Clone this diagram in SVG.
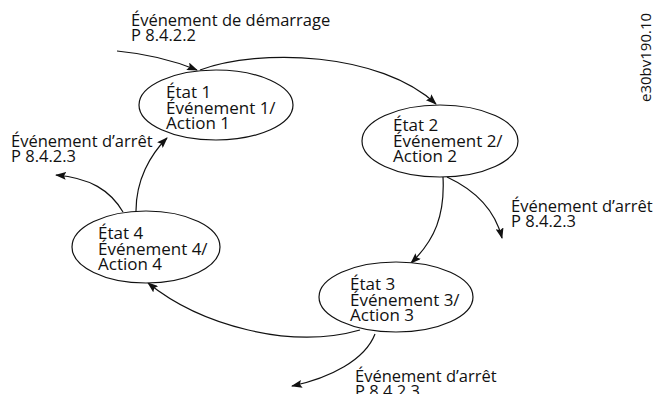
<svg xmlns="http://www.w3.org/2000/svg" width="656" height="394" viewBox="0 0 656 394">
<style>
text{font-family:"Open Sans","Liberation Sans",sans-serif;font-size:16.5px;fill:#111}
.in{font-size:17px}
.st{fill:#fff;stroke:#111;stroke-width:1.2}
.c{fill:none;stroke:#111;stroke-width:1.2;marker-end:url(#ah)}
</style>
<defs>
<marker id="ah" markerWidth="11" markerHeight="8" refX="10" refY="4" orient="auto" markerUnits="userSpaceOnUse">
<path d="M0,0 L11,4 L0,8 L2,4 Z" fill="#111"/>
</marker>
</defs>
<rect width="656" height="394" fill="#fff"/>
<g id="connectors">
<path class="c" d="M117,51 Q160,55 197,70"/>
<path class="c" d="M200,70 C260,48 380,52 436,104"/>
<path class="c" d="M443,177 C445,215 435,240 411,263"/>
<path class="c" d="M447,177 C475,190 495,210 502,238"/>
<path class="c" d="M360,330 C290,350 200,325 148,283"/>
<path class="c" d="M375,334 C365,360 330,378 292,386"/>
<path class="c" d="M136,211 C136,180 150,155 167,138"/>
<path class="c" d="M123,212 C110,190 90,178 56,175"/>
</g>
<g id="state1">
<ellipse class="st" cx="216" cy="105" rx="77" ry="35"/>
<text class="in" x="166" y="98">État 1</text>
<text class="in" x="166" y="113.5">Événement 1/</text>
<text class="in" x="166" y="129">Action 1</text>
</g>
<g id="state2">
<ellipse class="st" cx="440" cy="141" rx="78" ry="36"/>
<text class="in" x="393" y="131">État 2</text>
<text class="in" x="393" y="146.5">Événement 2/</text>
<text class="in" x="393" y="162">Action 2</text>
</g>
<g id="state3">
<ellipse class="st" cx="396" cy="297" rx="77" ry="35"/>
<text class="in" x="350" y="290">État 3</text>
<text class="in" x="350" y="305.5">Événement 3/</text>
<text class="in" x="350" y="321">Action 3</text>
</g>
<g id="state4">
<ellipse class="st" cx="146" cy="247" rx="74" ry="36"/>
<text class="in" x="98" y="239">État 4</text>
<text class="in" x="98" y="254.5">Événement 4/</text>
<text class="in" x="98" y="270">Action 4</text>
</g>
<g id="labels">
<text x="131" y="26">Événement de démarrage</text>
<text x="131" y="41">P 8.4.2.2</text>
<text x="11" y="147">Événement d’arrêt</text>
<text x="11" y="162">P 8.4.2.3</text>
<text x="511" y="212">Événement d’arrêt</text>
<text x="511" y="227">P 8.4.2.3</text>
<text x="355" y="382">Événement d’arrêt</text>
<text x="355" y="397">P 8.4.2.3</text>
<text transform="translate(651,102) rotate(-90)" style="font-size:15px">e30bv190.10</text>
</g>
</svg>
